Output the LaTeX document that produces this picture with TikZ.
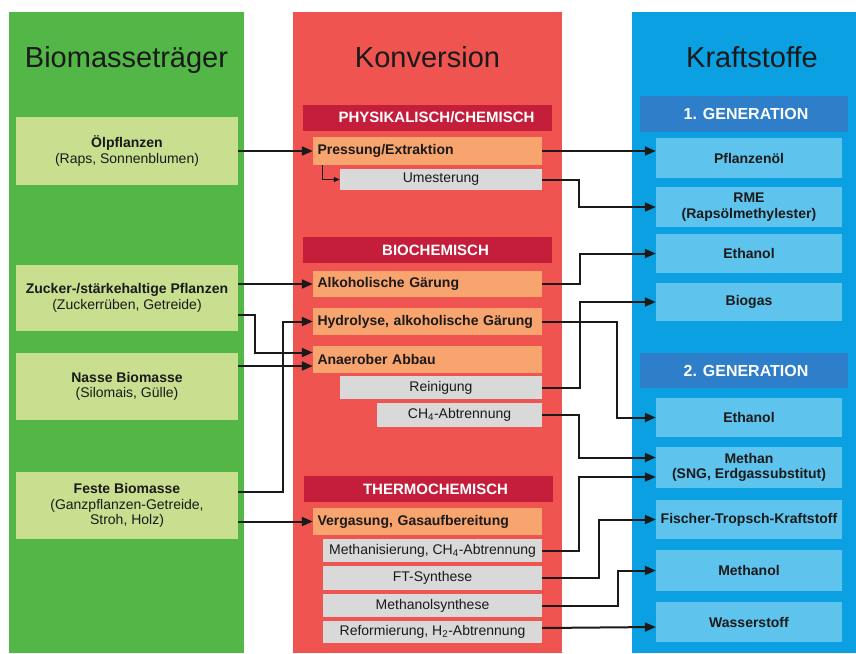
\documentclass[tikz,border=0pt]{standalone}
\usepackage{fontspec}
\setmainfont{Liberation Sans}
\usetikzlibrary{arrows.meta,calc}
\definecolor{colgreen}{HTML}{53B747}
\definecolor{lgreen}{HTML}{C8DF8F}
\definecolor{colred}{HTML}{EF5451}
\definecolor{dred}{HTML}{C41E3A}
\definecolor{orangebox}{HTML}{F8A46E}
\definecolor{graybox}{HTML}{D9D9DA}
\definecolor{colblue}{HTML}{0AA0E2}
\definecolor{dblue}{HTML}{2F7EC9}
\definecolor{lblue}{HTML}{5EC4EE}
\definecolor{txt}{HTML}{1A1A1A}
\begin{document}
\begin{tikzpicture}[x=1pt,y=-1pt,
  box/.style={rectangle, inner sep=0pt, text=txt, font=\fontsize{14}{15.5}\selectfont},
  lbox/.style={box, fill=lgreen, minimum width=222pt, align=center},
  obox/.style={box, fill=orangebox, minimum height=27pt, inner xsep=4.5pt, text width=220pt, align=left, font=\fontsize{14}{15.5}\selectfont\bfseries},
  gbox/.style={box, fill=graybox, align=center},
  bbox/.style={box, fill=lblue, minimum width=186pt, align=center, font=\fontsize{14}{15.5}\selectfont\bfseries},
  hdr/.style={rectangle, fill=dred, minimum width=249pt, minimum height=26pt, inner sep=0pt},
  hdrtxt/.style={text=white, inner sep=0pt, font=\fontsize{15}{17}\selectfont\bfseries},
  ghdr/.style={rectangle, fill=dblue, minimum width=208pt, minimum height=36pt, inner sep=0pt},
  ghdrtxt/.style={text=white, inner sep=0pt, font=\fontsize{16}{18}\selectfont\bfseries},
  coltitle/.style={text=txt, inner sep=0pt, anchor=base, font=\fontsize{29}{31}\selectfont},
  arr/.style={line width=2pt, draw=txt, -{Triangle[length=11pt,width=9pt]}},
  smallarr/.style={line width=1.3pt, draw=txt, -{Triangle[length=6pt,width=5pt]}}
]
\useasboundingbox (0,0) rectangle (856,653);
\fill[white] (0,0) rectangle (856,653);
% columns
\fill[colgreen] (9,12) rectangle (244,653);
\fill[colred] (293,12) rectangle (562,653);
\fill[colblue] (632,12) rectangle (856,653);
% titles
\node[coltitle] (t1) at (126.5,67) {Biomasseträger};
\node[coltitle] (t2) at (427.5,67) {Konversion};
\node[coltitle] (t3) at (752,67) {Kraftstoffe};
% left boxes
\node[lbox, minimum height=68pt] (oel) at (127,151) {\textbf{Ölpflanzen}\\(Raps, Sonnenblumen)};
\node[lbox, minimum height=66pt] (zuck) at (127,298) {\textbf{Zucker-/stärkehaltige Pflanzen}\\(Zuckerrüben, Getreide)};
\node[lbox, minimum height=67pt] (nass) at (127,386.5) {\textbf{Nasse Biomasse}\\(Silomais, Gülle)};
\node[lbox, minimum height=67pt] (fest) at (127,505.5) {\textbf{Feste Biomasse}\\(Ganzpflanzen-Getreide,\\Stroh, Holz)};
% section headers
\node[hdr] (phys) at (427.5,117.5) {};
\node[hdrtxt] (physt) at ([xshift=9pt]phys.center) {PHYSIKALISCH/CHEMISCH};
\node[hdr] (bio) at (427.5,250) {};
\node[hdrtxt] (biot) at ([xshift=8pt]bio.center) {BIOCHEMISCH};
\node[hdr] (thermo) at (428.5,489) {};
\node[hdrtxt] (thermot) at ([xshift=7pt]thermo.center) {THERMOCHEMISCH};
% orange boxes
\node[obox, minimum height=28pt] (press) at (427.5,151) {Pressung/Extraktion};
\node[obox, minimum height=26pt] (alk) at (427.5,284) {Alkoholische Gärung};
\node[obox] (hydro) at (427.5,321.5) {Hydrolyse, alkoholische Gärung};
\node[obox] (anae) at (427.5,359.5) {Anaerober Abbau};
\node[obox] (verg) at (427.5,521.5) {Vergasung, Gasaufbereitung};
% gray boxes
\node[gbox, minimum width=202pt, minimum height=21pt] (umest) at (441,179.5) {Umesterung};
\node[gbox, minimum width=202pt, minimum height=23pt] (rein) at (441,387.5) {Reinigung};
\node[gbox, minimum width=165pt, minimum height=24pt] (ch4) at (459.5,415) {CH\textsubscript{4}-Abtrennung};
\node[gbox, minimum width=219pt, minimum height=23pt] (meth) at (432.5,550.5) {Methanisierung, CH\textsubscript{4}-Abtrennung};
\node[gbox, minimum width=219pt, minimum height=24pt] (ft) at (432.5,578) {FT-Synthese};
\node[gbox, minimum width=219pt, minimum height=23pt] (mol) at (432.5,605.5) {Methanolsynthese};
\node[gbox, minimum width=219pt, minimum height=22pt] (ref) at (432.5,632) {Reformierung, H\textsubscript{2}-Abtrennung};
% generation headers
\node[ghdr] (gen1) at (744,114) {};
\node[ghdrtxt] (gen1t) at ([xshift=2pt]gen1.center) {1. GENERATION};
\node[ghdr, minimum height=35pt] (gen2) at (744,370.5) {};
\node[ghdrtxt] (gen2t) at ([xshift=2pt]gen2.center) {2. GENERATION};
% blue boxes
\node[bbox, minimum height=40pt] (pfl) at (749,158) {Pflanzenöl};
\node[bbox, minimum height=40pt] (rme) at (749,207) {RME\\(Rapsölmethylester)};
\node[bbox, minimum height=39pt] (eth1) at (749,253.5) {Ethanol};
\node[bbox, minimum height=38pt] (biog) at (749,302) {Biogas};
\node[bbox, minimum height=39pt] (eth2) at (749,417.5) {Ethanol};
\node[bbox, minimum height=41pt] (methan) at (749,467.5) {Methan\\(SNG, Erdgassubstitut)};
\node[bbox, minimum height=39pt] (ftk) at (749,519.5) {Fischer-Tropsch-Kraftstoff};
\node[bbox, minimum height=41pt] (mol2) at (749,570.5) {Methanol};
\node[bbox, minimum height=40pt] (h2) at (749,622) {Wasserstoff};
% left connectors
\draw[arr] (oel.east) -- (press.west);
\draw[arr] (zuck.east |- alk.west) -- (alk.west);
\draw[arr] ($(zuck.east)+(0,17)$) -- ++(17,0) |- ($(anae.west)+(0,-7)$);
\draw[arr] ($(nass.east)+(0,-20.5)$) -- ($(anae.west)+(0,6.5)$);
\draw[arr] ($(fest.east)+(0,-13.5)$) -- ++(45,0) |- (hydro.west);
\draw[arr] (fest.east |- verg.west) -- (verg.west);
% internal
\draw[smallarr] ($(press.south west)+(10,0)$) |- (umest.west);
% right connectors
\draw[arr] (press.east) -- (pfl.west |- press.east);
\draw[arr] (umest.east) -- ++(37,0) |- (rme.west);
\draw[arr] (alk.east) -- ++(38,0) |- (eth1.west);
\draw[arr] (rein.east) -- ++(38,0) |- (biog.west);
\draw[arr] (hydro.east) -- ++(75,0) |- (eth2.west);
\draw[arr] (ch4.east) -- ++(37,0) |- ($(methan.west)+(0,-10)$);
\draw[arr] (meth.east) -- ++(37,0) |- ($(methan.west)+(0,9.5)$);
\draw[arr] (ft.east) -- ++(57,0) |- (ftk.west);
\draw[arr] (mol.east) -- ++(76,0) |- (mol2.west);
\draw[arr] ($(ref.east)+(0,-4)$) -- ($(h2.west)+(0,5)$);
\end{tikzpicture}
\end{document}
